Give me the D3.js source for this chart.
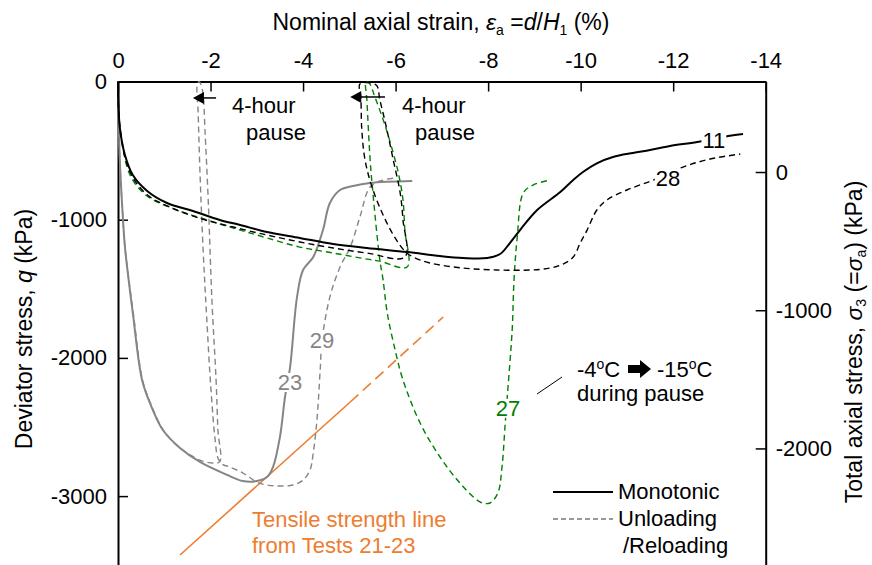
<!DOCTYPE html>
<html>
<head>
<meta charset="utf-8">
<script src="https://cdn.jsdelivr.net/npm/d3@7"></script>
<style>
  body { margin: 0; background: #fff; }
  svg { font-family: "Liberation Sans", Arial, sans-serif; }
</style>
</head>
<body>
<svg id="chart" width="872" height="565"></svg>
<script>
// axis ticks
const strainTicks = [0, -2, -4, -6, -8, -10, -12, -14];
const qTicks = [0, -1000, -2000, -3000];
const sigmaTicks = [0, -1000, -2000];

// [nominal axial strain (%), deviator stress q (kPa)]
const test11 = [[0,0],[-0.01,-170],[-0.04,-336],[-0.15,-532],[-0.32,-677],[-0.63,-792],
  [-1.06,-879],[-1.62,-937],[-2.2,-1002],[-2.64,-1038],[-3.22,-1089],[-3.93,-1132],
  [-4.65,-1176],[-5.38,-1205],[-6.25,-1234],[-6.96,-1263],[-7.46,-1277],[-7.98,-1277],
  [-8.26,-1248],[-8.47,-1169],[-8.69,-1075],[-9.06,-930],[-9.56,-800],[-9.84,-713],
  [-10.05,-655],[-10.36,-590],[-10.7,-546],[-11.13,-517],[-11.5,-496],[-11.93,-467],
  [-12.52,-438],[-13.19,-394],[-13.51,-380]];

const test28 = [[0,0],[-0.01,-180],[-0.05,-360],[-0.16,-560],[-0.33,-700],[-0.63,-820],
  [-1.06,-900],[-1.77,-990],[-2.49,-1053],[-3.22,-1111],[-3.93,-1161],[-4.65,-1205],
  [-5.38,-1241],[-6.2,-1270],
  [-6.16,-1002],[-6.1,-807],[-5.95,-568],[-5.79,-315],[-5.66,-134],[-5.58,-25],
  [-5.23,-18],[-5.25,-112],[-5.27,-351],[-5.34,-568],[-5.49,-763],[-5.73,-966],
  [-5.99,-1132],[-6.2,-1227],[-6.38,-1270],[-6.74,-1313],[-7.46,-1350],[-8.19,-1364],
  [-8.91,-1364],[-9.34,-1350],[-9.62,-1321],[-9.84,-1270],[-9.99,-1169],[-10.14,-1075],
  [-10.35,-930],[-10.57,-857],[-11.0,-785],[-11.57,-713],[-12.21,-619],[-12.8,-561],
  [-13.45,-525]];

const test27 = [[0,0],[-0.01,-180],[-0.06,-370],[-0.26,-677],[-0.63,-829],[-1.28,-930],
  [-1.99,-1009],[-2.64,-1075],[-3.22,-1132],[-3.93,-1198],[-4.65,-1241],[-5.38,-1285],
  [-5.66,-1300],[-6.25,-1342],
  [-6.2,-1075],[-6.16,-857],[-6.07,-677],[-5.99,-568],[-5.77,-315],[-5.56,-119],[-5.43,-11],
  [-5.36,-4],
  [-5.38,-134],[-5.45,-568],[-5.51,-807],[-5.66,-1292],[-5.73,-1436],[-5.82,-1675],
  [-5.99,-1943],[-6.16,-2160],[-6.53,-2471],[-6.96,-2717],[-7.39,-2905],[-7.83,-3043],
  [-8.04,-3050],[-8.21,-2978],[-8.3,-2790],[-8.37,-2471],[-8.43,-2211],[-8.52,-1798],
  [-8.56,-1436],[-8.63,-1125],[-8.76,-807],[-8.97,-749],[-9.34,-713]];

const test23 = [[0,0],[-0.005,-134],[-0.02,-351],[-0.04,-575],[-0.11,-1009],[-0.15,-1198],
  [-0.32,-1675],[-0.52,-2160],[-0.69,-2326],[-0.97,-2522],[-1.34,-2652],[-1.77,-2753],
  [-2.36,-2847],[-2.7,-2891],[-3.0,-2891],[-3.22,-2862],[-3.35,-2790],[-3.5,-2572],
  [-3.61,-2283],[-3.72,-2066],[-3.87,-1559],[-4.0,-1364],[-4.22,-1270],[-4.43,-1075],
  [-4.58,-879],[-4.8,-785],[-5.08,-756],[-5.45,-734],[-6.36,-720]];

const test29 = [[0,0],[-0.005,-134],[-0.02,-351],[-0.04,-575],[-0.11,-1009],[-0.15,-1198],
  [-0.33,-1675],[-0.53,-2160],[-0.7,-2326],[-0.98,-2522],[-1.34,-2652],[-1.77,-2739],
  [-2.05,-2761],[-2.2,-2750],
  [-2.16,-2522],[-2.12,-2160],[-2.03,-1581],[-1.95,-857],[-1.88,-351],[-1.84,-98],
  [-1.79,-18],[-1.75,0],
  [-1.71,-33],[-1.73,-206],[-1.77,-640],[-1.84,-1219],[-1.92,-1726],[-2.01,-2232],
  [-2.1,-2594],[-2.16,-2724],[-2.25,-2768],[-2.42,-2790],[-2.7,-2833],[-3.0,-2898],
  [-3.22,-2920],[-3.5,-2927],[-3.78,-2920],[-4.0,-2884],[-4.15,-2811],[-4.22,-2688],
  [-4.3,-2449],[-4.37,-2088],[-4.41,-1871],[-4.58,-1559],[-4.8,-1342],[-5.02,-1198],
  [-5.23,-980],[-5.45,-763],[-5.73,-713],[-6.03,-698]];

// tensile strength line from Tests 21-23 (solid part, extrapolated dashed part)
const tensileSolid = [[-1.34,-3426],[-5.02,-2319]];
const tensileDashed = [[-5.02,-2319],[-7.03,-1704]];

// 4-hour pauses: [start strain, end strain, q]
const pauses = [[-2.12,-1.62,-119],[-5.77,-5.02,-112]];

const svg = d3.select('#chart');
const plotLeft = 118, plotRight = 765.7, plotTop = 81.5, plotBottom = 565.2;

const x = d3.scaleLinear().domain([0, -14]).range([plotLeft, plotRight]);
const y = d3.scaleLinear().domain([0, -3500]).range([plotTop, plotBottom]);
// right axis: total axial stress, offset by the cell pressure
const yR = d3.scaleLinear().domain([655, -2845]).range([plotTop, plotBottom]);

const fmt = (d) => String(d);
const styleAxis = (g) => {
  g.attr('font-family', null).attr('font-size', null);
  g.select('.domain').attr('stroke', '#000').attr('stroke-width', 2);
  g.selectAll('.tick line').attr('stroke', '#000').attr('stroke-width', 1.5);
  g.selectAll('.tick text').attr('font-size', 22).attr('fill', '#000');
};

svg.append('g')
  .attr('transform', `translate(0,${plotTop})`)
  .call(d3.axisTop(x).tickValues(strainTicks).tickFormat(fmt)
    .tickSizeInner(-10).tickSizeOuter(0).tickPadding(14))
  .call(styleAxis);

svg.append('g')
  .attr('transform', `translate(${plotLeft},0)`)
  .call(d3.axisLeft(y).tickValues(qTicks).tickFormat(fmt)
    .tickSizeInner(-10).tickSizeOuter(0).tickPadding(11))
  .call(styleAxis);

svg.append('g')
  .attr('transform', `translate(${plotRight},0)`)
  .call(d3.axisRight(yR).tickValues(sigmaTicks).tickFormat(fmt)
    .tickSizeInner(-10).tickSizeOuter(0).tickPadding(10))
  .call(styleAxis);

// axis titles
const topTitle = svg.append('text')
  .attr('x', 441).attr('y', 30)
  .attr('text-anchor', 'middle').attr('font-size', 23);
topTitle.append('tspan').text('Nominal axial strain, ');
topTitle.append('tspan').attr('font-style', 'italic').text('ε');
topTitle.append('tspan').attr('font-size', 14).attr('dy', 5).text('a');
topTitle.append('tspan').attr('dy', -5).text(' =');
topTitle.append('tspan').attr('font-style', 'italic').text('d');
topTitle.append('tspan').text('/');
topTitle.append('tspan').attr('font-style', 'italic').text('H');
topTitle.append('tspan').attr('font-size', 14).attr('dy', 5).text('1');
topTitle.append('tspan').attr('dy', -5).text(' (%)');

const leftTitle = svg.append('text')
  .attr('transform', 'translate(32,329) rotate(-90)')
  .attr('text-anchor', 'middle').attr('font-size', 23);
leftTitle.append('tspan').text('Deviator stress, ');
leftTitle.append('tspan').attr('font-style', 'italic').text('q');
leftTitle.append('tspan').text(' (kPa)');

const rightTitle = svg.append('text')
  .attr('transform', 'translate(862,342) rotate(-90)')
  .attr('text-anchor', 'middle').attr('font-size', 23);
rightTitle.append('tspan').text('Total axial stress, ');
rightTitle.append('tspan').attr('font-style', 'italic').text('σ');
rightTitle.append('tspan').attr('font-size', 14).attr('dy', 4).text('3');
rightTitle.append('tspan').attr('dy', -4).text(' (=');
rightTitle.append('tspan').attr('font-style', 'italic').text('σ');
rightTitle.append('tspan').attr('font-size', 14).attr('dy', 4).text('a');
rightTitle.append('tspan').attr('dy', -4).text(') (kPa)');

// curves
const line = d3.line()
  .x((d) => x(d[0]))
  .y((d) => y(d[1]))
  .curve(d3.curveCatmullRom.alpha(0.5));

const series = [
  { data: tensileSolid, color: '#ED7D31', width: 1.6, dash: null },
  { data: tensileDashed, color: '#ED7D31', width: 1.6, dash: '11,6' },
  { data: test29, color: '#858585', width: 1.4, dash: '6,4' },
  { data: test23, color: '#858585', width: 2, dash: null },
  { data: test27, color: '#008000', width: 1.4, dash: '6,4' },
  { data: test28, color: '#000', width: 1.4, dash: '6,4' },
  { data: test11, color: '#000', width: 2, dash: null },
];

svg.append('g').selectAll('path')
  .data(series)
  .join('path')
  .attr('d', (d) => line(d.data))
  .attr('fill', 'none')
  .attr('stroke', (d) => d.color)
  .attr('stroke-width', (d) => d.width)
  .attr('stroke-dasharray', (d) => d.dash);

// curve labels with a white patch behind, like the gaps in the figure
const curveLabels = [
  { text: '11', s: -12.88, q: -423, color: '#000' },
  { text: '28', s: -11.89, q: -698, color: '#000' },
  { text: '23', s: -3.72, q: -2175, color: '#858585' },
  { text: '29', s: -4.41, q: -1871, color: '#858585' },
  { text: '27', s: -8.43, q: -2362, color: '#008000' },
];
const labelG = svg.append('g');
curveLabels.forEach((l) => {
  const t = labelG.append('text')
    .attr('x', x(l.s)).attr('y', y(l.q))
    .attr('dy', '0.36em')
    .attr('text-anchor', 'middle')
    .attr('font-size', 22)
    .attr('fill', l.color)
    .text(l.text);
  const b = t.node().getBBox();
  labelG.insert('rect', () => t.node())
    .attr('x', b.x - 1).attr('y', b.y + 3)
    .attr('width', b.width + 2).attr('height', b.height - 6)
    .attr('fill', '#fff');
});

// pause arrows
const ann = svg.append('g');
pauses.forEach(([s0, s1, q]) => {
  const x0 = x(s0), x1 = x(s1), yy = y(q);
  ann.append('line')
    .attr('x1', x0).attr('x2', x1 + 8).attr('y1', yy).attr('y2', yy)
    .attr('stroke', '#000').attr('stroke-width', 1.5);
  ann.append('path')
    .attr('d', `M${x1},${yy}L${x1 + 11},${yy - 6}L${x1 + 11},${yy + 6}Z`)
    .attr('fill', '#000');
});

const addText = (px, py, str, color = '#000', size = 22) =>
  ann.append('text').attr('x', px).attr('y', py)
    .attr('font-size', size).attr('fill', color).text(str);

addText(232, 113, '4-hour');
addText(246, 140, 'pause');
addText(402, 113, '4-hour');
addText(415, 140, 'pause');

addText(252, 527, 'Tensile strength line', '#ED7D31');
addText(252, 553, 'from Tests 21-23', '#ED7D31');

// temperature change note
const t1 = ann.append('text').attr('x', 577).attr('y', 377).attr('font-size', 22);
t1.append('tspan').text('-4');
t1.append('tspan').attr('font-size', 14).attr('dy', -8).text('o');
t1.append('tspan').attr('dy', 8).text('C');
const t2 = ann.append('text').attr('x', 657).attr('y', 377).attr('font-size', 22);
t2.append('tspan').text('-15');
t2.append('tspan').attr('font-size', 14).attr('dy', -8).text('o');
t2.append('tspan').attr('dy', 8).text('C');
ann.append('path')
  .attr('d', 'M628,365L640,365L640,360L651,369L640,378L640,373L628,373Z')
  .attr('fill', '#000');
addText(577, 401, 'during pause');
ann.append('line')
  .attr('x1', 537).attr('y1', 394).attr('x2', 562).attr('y2', 377)
  .attr('stroke', '#000').attr('stroke-width', 1);

// legend
const legend = svg.append('g');
legend.append('line')
  .attr('x1', 553).attr('x2', 613).attr('y1', 492).attr('y2', 492)
  .attr('stroke', '#000').attr('stroke-width', 2);
legend.append('line')
  .attr('x1', 553).attr('x2', 613).attr('y1', 519).attr('y2', 519)
  .attr('stroke', '#333').attr('stroke-width', 1).attr('stroke-dasharray', '5,3');
legend.append('text').attr('x', 618).attr('y', 499).attr('font-size', 22).text('Monotonic');
legend.append('text').attr('x', 618).attr('y', 526).attr('font-size', 22).text('Unloading');
legend.append('text').attr('x', 623).attr('y', 553).attr('font-size', 22).text('/Reloading');
</script>
</body>
</html>
